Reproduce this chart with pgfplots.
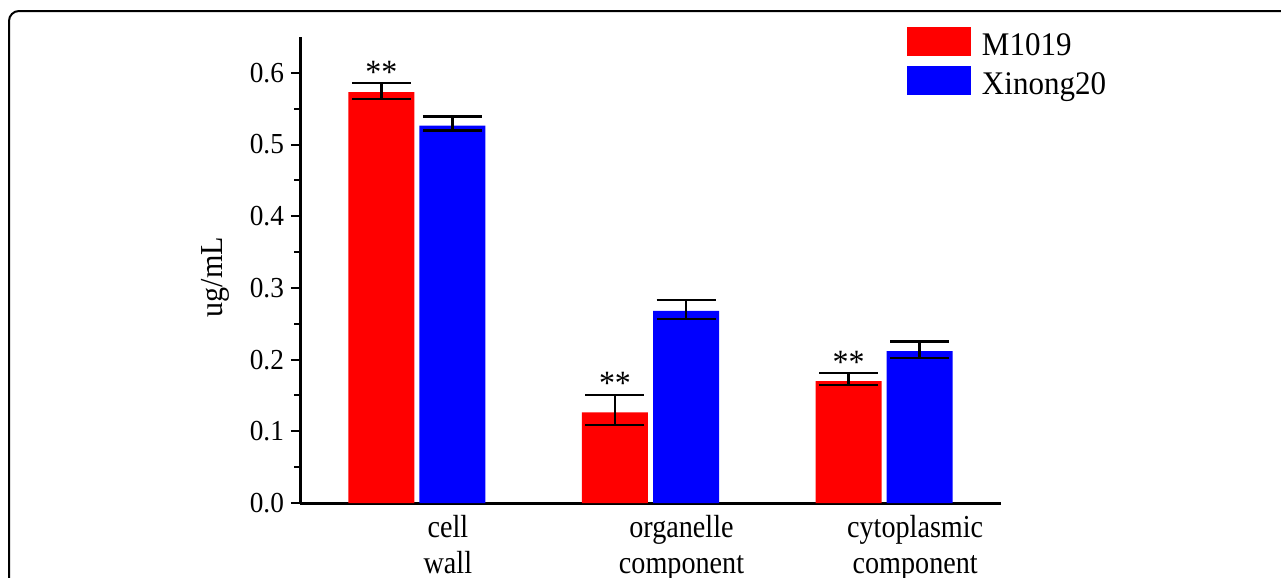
\documentclass[border=0pt]{standalone}
\usepackage{fontspec}
\setmainfont{Liberation Serif}[FakeStretch=0.94]
\newfontfamily\catfont{Liberation Serif}[FakeStretch=0.88]
\usepackage{pgfplots}
\pgfplotsset{compat=1.18}

% bars sit at their own x (category -/+ 0.152), so the error bars line up with them
\pgfplotsset{
  mybar/.style={
    ybar, bar width=33pt, bar shift=0pt, draw=none, fill=#1,
    legend image code/.code={\fill[#1] (0pt,-5pt) rectangle (32pt,9.5pt);},
    error bars/.cd, y dir=both, y explicit,
    error bar style={line width=1.2pt, black},
    error mark options={rotate=90, mark size=14.75pt, line width=1.2pt, black},
    /pgfplots/.cd,
  },
}

\begin{document}
\begin{tikzpicture}
\useasboundingbox (0,0) rectangle (640.5pt,-289pt);
\begin{scope}
  \clip (0,0) rectangle (640.5pt,-289pt);
  \draw[line width=1pt, rounded corners=5pt] (4.5pt,-5.5pt) rectangle (700pt,-400pt);
\end{scope}
\begin{axis}[
  at={(150pt,-251.5pt)}, anchor=south west,
  scale only axis, width=350.5pt, height=233pt,
  xmin=-0.5, xmax=2.5, ymin=0, ymax=0.65,
  axis x line*=bottom, axis y line*=left,
  axis line style={line width=1.5pt, -},
  xtick={0,1,2},
  xticklabels={{cell\\wall},{organelle\\component},{cytoplasmic\\component}},
  xtick style={draw=none},
  xticklabel style={align=center, anchor=north, inner sep=0pt, xshift=15.5pt, yshift=-1.5pt,
    font=\catfont\fontsize{16}{17.8}\selectfont},
  ytick={0,0.1,...,0.6},
  minor y tick num=1,
  tick align=outside,
  major tick length=4.5pt, minor tick length=3pt,
  ytick style={line width=1pt, black},
  minor y tick style={line width=1pt, black},
  yticklabel style={/pgf/number format/fixed, /pgf/number format/fixed zerofill,
    /pgf/number format/precision=1, font=\fontsize{14.5}{17}\selectfont},
  /pgf/number format/assume math mode=true,
  ylabel={ug/mL},
  ylabel style={at={(axis description cs:-0.12,0.485)}, anchor=center,
    font=\fontsize{16}{18}\selectfont},
  legend style={at={(axis description cs:0.8659,1.0215)}, anchor=north west,
    draw=none, fill=none, inner sep=0pt, outer sep=0pt, row sep=4pt,
    column sep=5.5pt, nodes={inner sep=0pt},
    font=\fontsize{16.5}{19}\selectfont},
  legend cell align=left,
  clip=false,
]
\addplot[mybar=red] coordinates {
  (-0.152,0.573) += (0,0.0126) -= (0,0.0093)
  (0.848,0.1265) += (0,0.0242) -= (0,0.0177)
  (1.848,0.170) += (0,0.011) -= (0,0.0054)
};
\addlegendentry{M1019}
\addplot[mybar=blue] coordinates {
  (0.152,0.5265) += (0,0.0125) -= (0,0.007)
  (1.152,0.268) += (0,0.0152) -= (0,0.0113)
  (2.152,0.212) += (0,0.0131) -= (0,0.0094)
};
\addlegendentry{Xinong20}
\node[anchor=base, inner sep=0pt, font=\fontsize{17}{18}\selectfont] at (axis cs:-0.152,0.5856) {**};
\node[anchor=base, inner sep=0pt, font=\fontsize{17}{18}\selectfont] at (axis cs:0.848,0.1507) {**};
\node[anchor=base, inner sep=0pt, font=\fontsize{17}{18}\selectfont] at (axis cs:1.848,0.181) {**};
\end{axis}
\end{tikzpicture}
\end{document}
